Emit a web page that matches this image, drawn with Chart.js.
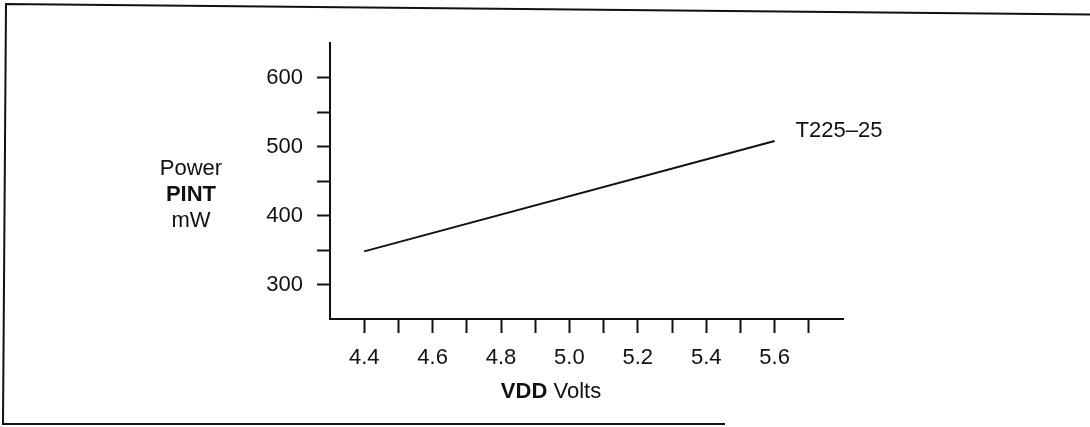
<!DOCTYPE html>
<html>
<head>
<meta charset="utf-8">
<script src="https://cdn.jsdelivr.net/npm/chart.js@4.4.1/dist/chart.umd.min.js"></script>
<style>
  html, body { margin: 0; padding: 0; background: #fff; }
  canvas { display: block; }
</style>
</head>
<body>
<canvas id="power" width="1090" height="427"></canvas>
<script>
// supply voltage (V) against internal power (mW)
const vddVolts = [4.4, 5.6];
const powerMw = [348, 508];
const seriesName = 'T225–25';

const xTickValues = [4.4, 4.5, 4.6, 4.7, 4.8, 4.9, 5.0, 5.1, 5.2, 5.3, 5.4, 5.5, 5.6, 5.7];
const xTickLabels = ['4.4', '4.6', '4.8', '5.0', '5.2', '5.4', '5.6'];
const yTickValues = [300, 350, 400, 450, 500, 550, 600];
const yTickLabels = ['300', '400', '500', '600'];

const ink = '#111';
const face = '"Liberation Sans", Arial, Helvetica, sans-serif';
const fontSize = 22;

// open-sided frame around the figure
const frame = {
  id: 'frame',
  beforeDraw(chart) {
    const { ctx, width, height } = chart;
    ctx.save();
    ctx.fillStyle = '#fff';
    ctx.fillRect(0, 0, width, height);
    ctx.strokeStyle = ink;
    ctx.lineWidth = 2;
    ctx.beginPath();
    ctx.moveTo(1090, 14.5);
    ctx.lineTo(6, 4);
    ctx.lineTo(3, 424);
    ctx.lineTo(725, 424);
    ctx.stroke();
    ctx.restore();
  }
};

// draws a run of [text, bold] parts centred on cx
function mixedText(ctx, parts, cx, cy) {
  const fonts = parts.map(([, bold]) => `${bold ? 'bold ' : ''}${fontSize}px ${face}`);
  const widths = parts.map(([t], i) => { ctx.font = fonts[i]; return ctx.measureText(t).width; });
  let x = cx - widths.reduce((a, b) => a + b, 0) / 2;
  parts.forEach(([t], i) => {
    ctx.font = fonts[i];
    ctx.fillText(t, x, cy);
    x += widths[i];
  });
}

const labels = {
  id: 'labels',
  afterDraw(chart) {
    const { ctx, chartArea: a, scales: { x, y } } = chart;
    ctx.save();
    ctx.fillStyle = ink;
    ctx.textBaseline = 'middle';
    ctx.textAlign = 'left';

    const last = vddVolts.length - 1;
    ctx.font = `${fontSize}px ${face}`;
    ctx.fillText(seriesName, x.getPixelForValue(vddVolts[last]) + 21, y.getPixelForValue(powerMw[last]) - 10);

    const tx = a.left - 139;
    mixedText(ctx, [['Power', false]], tx, a.top + 126);
    mixedText(ctx, [['PINT', true]], tx, a.top + 152);
    mixedText(ctx, [['mW', false]], tx, a.top + 178);

    mixedText(ctx, [['VDD', true], [' Volts', false]], a.left + 221, a.bottom + 73);
    ctx.restore();
  }
};

new Chart(document.getElementById('power'), {
  type: 'line',
  data: {
    datasets: [{
      label: seriesName,
      data: vddVolts.map((v, i) => ({ x: v, y: powerMw[i] })),
      borderColor: ink,
      borderWidth: 2,
      pointRadius: 0,
      tension: 0,
      fill: false
    }]
  },
  options: {
    responsive: false,
    animation: false,
    layout: { padding: { top: 43, right: 247, left: 0, bottom: 0 } },
    plugins: {
      legend: { display: false },
      tooltip: { enabled: false }
    },
    scales: {
      x: {
        type: 'linear',
        min: 4.3,
        max: 5.8,
        afterBuildTicks: s => { s.ticks = xTickValues.map(v => ({ value: v })); },
        afterFit: s => { s.height = 108; },
        border: { display: true, color: ink, width: 2 },
        grid: { drawOnChartArea: false, drawTicks: true, tickLength: 14, tickColor: ink, tickWidth: 2 },
        ticks: {
          color: ink,
          padding: 12,
          maxRotation: 0,
          autoSkip: false,
          font: { family: face, size: fontSize },
          callback: v => {
            const s = Number(v).toFixed(1);
            return xTickLabels.includes(s) ? s : '';
          }
        }
      },
      y: {
        type: 'linear',
        min: 250,
        max: 650,
        afterBuildTicks: s => { s.ticks = yTickValues.map(v => ({ value: v })); },
        afterFit: s => { s.width = 330; },
        border: { display: true, color: ink, width: 2 },
        grid: { drawOnChartArea: false, drawTicks: true, tickLength: 13, tickColor: ink, tickWidth: 2 },
        ticks: {
          color: ink,
          padding: 14,
          autoSkip: false,
          font: { family: face, size: fontSize },
          callback: v => {
            const s = String(Math.round(v));
            return yTickLabels.includes(s) ? s : '';
          }
        }
      }
    }
  },
  plugins: [frame, labels]
});
</script>
</body>
</html>
